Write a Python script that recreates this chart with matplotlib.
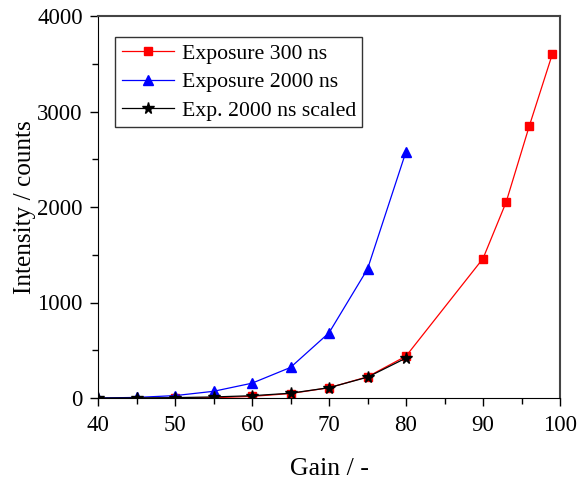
import matplotlib
matplotlib.use("Agg")
import matplotlib.pyplot as plt
from matplotlib.ticker import MultipleLocator

plt.rcParams['font.family'] = ['Liberation Serif', 'DejaVu Serif']

# Gain settings and measured intensities
gain_300 = [50, 55, 60, 65, 70, 75, 80, 90, 93, 96, 99]
int_300 = [0, 3, 17, 47, 107, 222, 438, 1460, 2050, 2845, 3600]

gain_2000 = [40, 45, 50, 55, 60, 65, 70, 75, 80]
int_2000 = [0, 6, 25, 70, 155, 320, 682, 1350, 2580]

int_2000_scaled = [0, 1, 4, 11, 24, 50, 108, 218, 418]

fig = plt.figure(figsize=(5.77, 4.79), dpi=100)
ax = fig.add_axes([98/577, 81/479, 462/577, 382/479])

ax.plot(gain_300, int_300, color='red', lw=0.9, marker='s', ms=6,
        label='Exposure 300 ns')
ax.plot(gain_2000, int_2000, color='blue', lw=0.9, marker='^', ms=7.5,
        label='Exposure 2000 ns')
ax.plot(gain_2000, int_2000_scaled, color='black', lw=0.9, marker='*', ms=8.5,
        label='Exp. 2000 ns scaled')

ax.set_xlim(40, 100)
ax.set_ylim(0, 4000)
ax.xaxis.set_major_locator(MultipleLocator(10))
ax.xaxis.set_minor_locator(MultipleLocator(5))
ax.yaxis.set_major_locator(MultipleLocator(1000))
ax.yaxis.set_minor_locator(MultipleLocator(500))
ax.tick_params(which='both', direction='out', labelsize=16.5, width=1)
ax.tick_params(which='major', length=6)
ax.tick_params(which='minor', length=4)
ax.tick_params(axis='x', pad=6)
ax.tick_params(axis='y', pad=5)
for s in ['top', 'right']:
    ax.spines[s].set_color('#444444')
    ax.spines[s].set_linewidth(1.5)

ax.set_xlabel('Gain / -', fontsize=18.5, labelpad=16)
ax.set_ylabel('Intensity / counts', fontsize=18.2, labelpad=1)

leg = ax.legend(loc='upper left', fontsize=15.7, fancybox=False, framealpha=1,
                edgecolor='#333333', handlelength=2.4, handletextpad=0.35,
                borderpad=0.3, labelspacing=0.38, borderaxespad=0,
                bbox_to_anchor=(0.037, 0.945))
leg.get_frame().set_linewidth(1)

fig.savefig('out.png', dpi=100)
